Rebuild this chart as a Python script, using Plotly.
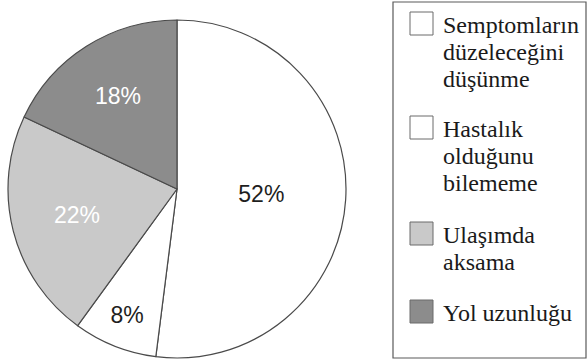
import plotly.graph_objects as go

# ---- data ----
labels = ["Semptomların düzeleceğini düşünme",
          "Hastalık olduğunu bilememe",
          "Ulaşımda aksama",
          "Yol uzunluğu"]
legend_lines = [["Semptomların", "düzeleceğini", "düşünme"],
                ["Hastalık", "olduğunu", "bilememe"],
                ["Ulaşımda", "aksama"],
                ["Yol uzunluğu"]]
values = [52, 8, 22, 18]

# ---- style ----
colors = ["#ffffff", "#ffffff", "#c9c9c9", "#8c8c8c"]
text_colors = ["#1e1e1e", "#1e1e1e", "#ffffff", "#ffffff"]
W, H = 588, 362

fig = go.Figure()
fig.add_trace(go.Pie(
    labels=labels, values=values, sort=False, direction="clockwise", rotation=0,
    marker=dict(colors=colors, line=dict(color="#4a4a4a", width=1.2)),
    texttemplate="%{value}%", textposition="inside", insidetextorientation="horizontal",
    textfont=dict(family="Liberation Sans", size=23, color=text_colors),
    domain=dict(x=[8 / W, 346 / W], y=[1 - 358 / H, 1 - 20 / H]),
    showlegend=False, hoverinfo="label+percent",
))

shapes = []
annotations = []
# legend frame
shapes.append(dict(type="rect", xref="paper", yref="paper",
                   x0=393 / W, x1=586 / W, y0=1 - 358 / H, y1=1 - 2 / H,
                   line=dict(color="#5a5a5a", width=1.2), fillcolor="rgba(0,0,0,0)"))
square_tops = [12, 116, 222, 300]
sq = 23
line_h = 27
for i, lines in enumerate(legend_lines):
    top = square_tops[i]
    shapes.append(dict(type="rect", xref="paper", yref="paper",
                       x0=410 / W, x1=(410 + sq) / W,
                       y0=1 - (top + sq) / H, y1=1 - top / H,
                       line=dict(color="#6a6a6a", width=1), fillcolor=colors[i]))
    for j, ln in enumerate(lines):
        yc = top + 13 + j * line_h
        annotations.append(dict(text=ln, xref="paper", yref="paper",
                                x=441 / W, y=1 - yc / H, xanchor="left", yanchor="middle",
                                showarrow=False,
                                font=dict(family="Liberation Serif", size=24, color="#1a1a1a")))

fig.update_layout(
    width=W, height=H, margin=dict(l=0, r=0, t=0, b=0),
    paper_bgcolor="white", plot_bgcolor="white",
    shapes=shapes, annotations=annotations,
)
fig.write_html("out.html")
